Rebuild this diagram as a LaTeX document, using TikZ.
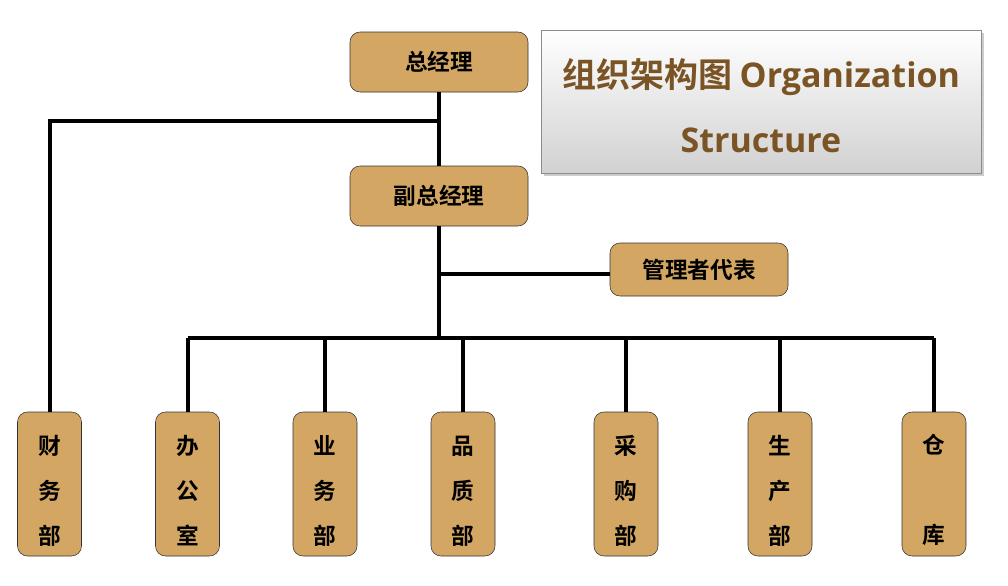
\documentclass[tikz,border=0pt]{standalone}
\usepackage{fontspec}
\usetikzlibrary{positioning,shadows}
\newfontfamily\cjk{Noto Sans CJK SC Bold}
\newfontfamily\latin{Open Sans}[BoldFont={Open Sans Bold}]
\definecolor{boxfill}{RGB}{211,167,99}
\definecolor{titlebrown}{RGB}{122,84,36}
\newcommand\topgap[1]{\rule{0pt}{#1}}

\begin{document}
\begin{tikzpicture}[
    x=0.75pt, y=-0.75pt,
    every node/.style={font=\cjk\fontsize{17pt}{20pt}\selectfont},
    head/.style={draw=black!80,fill=boxfill,rounded corners=7.5pt,
      minimum width=133.5pt,minimum height=45pt,inner sep=0pt},
    dept/.style={draw=black!80,fill=boxfill,rounded corners=7.5pt,
      minimum width=48pt,minimum height=108pt,inner sep=0pt,align=center,
      font=\cjk\fontsize{17pt}{33.75pt}\selectfont},
    link/.style={line width=3pt,black}
  ]
  \useasboundingbox (0,0) rectangle (1008,586);
  \node[head] (gm) at (439,62) {总经理};
  \node[head] (vgm) at (439,196) {副总经理};
  \node[head,minimum height=39.75pt] (rep) at (699,269.5) {管理者代表};
  \node[draw=black!45,top color=white,bottom color=black!18,
    minimum width=330pt,minimum height=107pt,align=center,
    drop shadow={shadow xshift=2pt,shadow yshift=-2pt,opacity=0.4},
    font=\cjk\fontsize{25.5pt}{49pt}\selectfont,text=titlebrown]
    (title) at (761,101.5) {\topgap{28pt}组织架构图 {\latin\bfseries Organization}\\{\latin\bfseries Structure}};
  \node[dept] (fin) at (49.5,484) {\topgap{24pt}财\\务\\部};
  \node[dept] (off) at (187.5,484) {\topgap{24pt}办\\公\\室};
  \node[dept] (biz) at (325,484) {\topgap{24pt}业\\务\\部};
  \node[dept] (qa) at (463,484) {\topgap{24pt}品\\质\\部};
  \node[dept] (buy) at (626,484) {\topgap{24pt}采\\购\\部};
  \node[dept] (prod) at (780,484) {\topgap{24pt}生\\产\\部};
  \node[dept] (store) at (934,484) {\topgap{24pt}仓\\[33.75pt]库};
  \coordinate (fin-turn) at (439,121);
  \coordinate (rep-turn) at (439,274);
  \coordinate (bus) at (439,338);
  \draw[link] (gm.south) -- (vgm.north);
  \draw[link] (fin-turn) -| (fin.north);
  \draw[link] (vgm.south) -- (bus);
  \draw[link] (rep-turn) -- (rep-turn -| rep.west);
  \draw[link] (bus -| off.north) -- (bus -| store.north);
  \foreach \d in {off,biz,qa,buy,prod,store}
    \draw[link] (bus -| \d.north) -- (\d.north);
\end{tikzpicture}
\end{document}
